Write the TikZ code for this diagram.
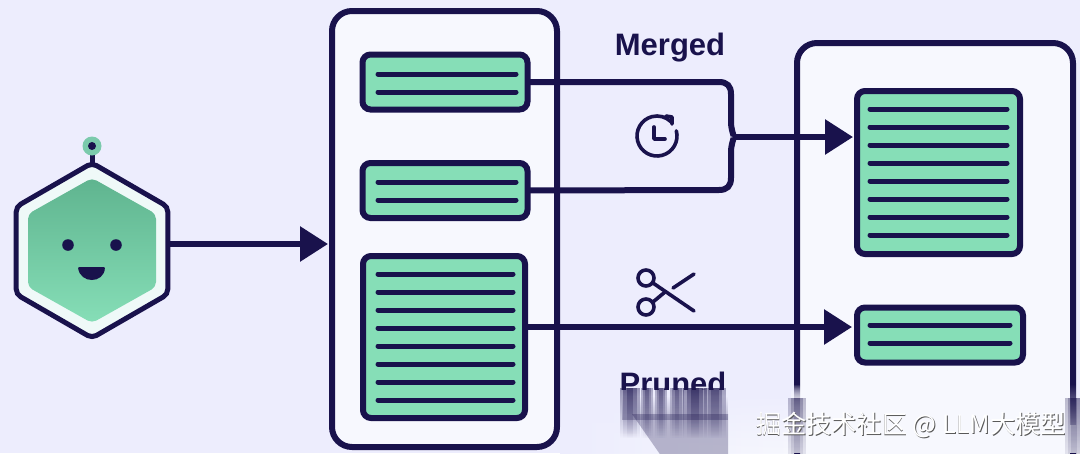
\documentclass[tikz,border=0pt]{standalone}
\usepackage{fontspec}
\setmainfont{Liberation Sans}
\newfontfamily\cjkfont{Noto Sans CJK SC}
\usetikzlibrary{arrows.meta,shapes.geometric,calc,fadings}
\definecolor{ink}{HTML}{19124C}
\definecolor{pagebg}{HTML}{EDEDFD}
\definecolor{panelbg}{HTML}{F7F8FE}
\definecolor{cardgreen}{HTML}{86DEB7}
\definecolor{cardtop}{HTML}{5FB48F}
\definecolor{halo}{HTML}{EFF9F8}
\tikzfading[name=fadedown,top color=transparent!0,bottom color=transparent!100]
\tikzfading[name=fadeup,top color=transparent!100,bottom color=transparent!0]
\tikzset{
  panel/.style={draw=ink,line width=6pt,fill=panelbg,rounded corners=20pt,inner sep=0pt,outer sep=0pt},
  card/.style={draw=ink,line width=6pt,fill=cardgreen,rounded corners=8pt,inner sep=0pt,outer sep=0pt},
  textline/.style={draw=ink,line width=5pt,line cap=round},
  flow/.style={draw=ink,line width=6pt},
  flowarrow/.style={flow,-{Triangle[length=28pt,width=34pt]}},
  icon/.style={draw=ink,line width=3.6pt,line cap=round,line join=round},
  label/.style={text=ink,inner sep=0pt,font=\fontsize{31}{31}\selectfont\bfseries},
  markfont/.style={inner sep=0pt,font=\fontsize{25.2}{26}\selectfont\cjkfont},
}
\newcommand{\softstreak}[5]{% centre x, half width, top y, bottom y, opacity
  \foreach \k in {1,0.66,0.33}
    \fill[ink,opacity=#5*0.45,path fading=fadedown] ({#1-#2*\k},#3) rectangle ({#1+#2*\k},#4);
}
\begin{document}
\begin{tikzpicture}[x=1pt,y=-1pt]
\useasboundingbox (0,0) rectangle (1080,453);
\begin{scope}
\clip (0,0) rectangle (1080,453);
\fill[pagebg] (0,0) rectangle (1080,453);
% panels
\node[panel,minimum width=225pt,minimum height=436pt] (boxL) at (444.5,229) {};
\node[panel,minimum width=276pt,minimum height=480pt] (boxR) at (935,283) {};
% cards
\node[card,minimum width=165pt,minimum height=55pt] (cardA) at (445,82) {};
\node[card,minimum width=165pt,minimum height=55pt] (cardB) at (445,190.5) {};
\node[card,minimum width=162pt,minimum height=162pt] (cardC) at (444,337) {};
\node[card,minimum width=163pt,minimum height=163pt] (cardD) at (938.5,172.5) {};
\node[card,minimum width=166pt,minimum height=55pt] (cardE) at (940,335) {};
\foreach \y in {74,92,182,200} \draw[textline] (378,\y) -- (516,\y);
\foreach \y in {274,292,...,400} \draw[textline] (378,\y) -- (513,\y);
\foreach \y in {109,127,...,235} \draw[textline] (870,\y) -- (1007,\y);
\foreach \y in {325,343} \draw[textline] (870,\y) -- (1010,\y);
% agent
\draw[ink,line width=5pt] (92,165) -- (92,148);
\fill[cardgreen!90!ink] (92,146) circle (9.5);
\fill[ink] (92,146) circle (4);
\node[regular polygon,regular polygon sides=6,shape border rotate=30,minimum size=175pt,inner sep=0pt,outer sep=0pt,draw=ink,line width=5pt,fill=halo,rounded corners=5pt] (hex) at (92,250.5) {};
\shade[top color=cardtop,bottom color=cardgreen,rounded corners=5pt]
  (92,178) -- (156,214) -- (156,287) -- (92,323) -- (28,287) -- (28,214) -- cycle;
\fill[ink] (68,245) circle (5.8) (116,245) circle (5.8);
\fill[ink,rounded corners=1pt] (78,267) .. controls (80,284) and (104,284) .. (105,267) -- cycle;
% connectors
\coordinate (hexOut) at (167,244);
\draw[flowarrow,shorten >=4pt] (hexOut) -- (hexOut -| boxL.west);
\coordinate (mergeJ) at (733,137);
\draw[flow] (cardA.east) -- (719,82) .. controls (727,82) and (731,86) .. (731,94) -- (731,122)
  .. controls (731,131) and (735,137) .. (mergeJ);
\draw[flow] (cardB.east) -- (719,190) .. controls (727,190) and (731,186) .. (731,178) -- (731,152)
  .. controls (731,143) and (735,137) .. (mergeJ);
\draw[flowarrow,shorten >=4pt] (mergeJ) -- (mergeJ -| cardD.west);
\coordinate (pruneOut) at (527,327);
\draw[flowarrow,shorten >=5pt] (pruneOut) -- (pruneOut -| cardE.west);
% clock
\begin{scope}[shift={(657,136)},yscale=-1]
\draw[icon] (15:20) arc[start angle=15,end angle=-315,radius=20];
\draw[icon] (9,20) -- (15,19) -- (15,12);
\draw[icon] (-3,9) -- (-3,-3) -- (8,-3);
\end{scope}
% scissors
\draw[icon] (646,278) circle (8) (646,307) circle (8);
\draw[icon] (653,283) -- (694,311);
\draw[icon] (653,302) -- (665,292);
\draw[icon] (673,288) -- (694,274);
% labels
\node[label] (merged) at (670,47.5) {Merged};
\begin{scope}
\clip (600,360) rectangle (750,389);
\node[label] (pruned) at (673,383.5) {Pruned};
\end{scope}
% whitening and smear of the bottom strip
\shade[left color=pagebg,middle color=panelbg,right color=panelbg,path fading=fadeup] (560,392) rectangle (794,453);
\fill[ink,opacity=.28] (632,414) -- (728,414) -- (728,460) -- (664,460) -- cycle;
\fill[ink,opacity=.28,path fading=fadeup] (622,396) rectangle (728,420);
\foreach \c/\w/\o in {630/10/.9,647/6/.7,661/6/.7,677/7/.7,695/12/1,715/11/.8}
  \softstreak{\c}{\w}{388}{438}{\o}
% bottom of the right panel's sides fades out
\fill[panelbg,path fading=fadeup] (791,384) rectangle (804,440);
\fill[panelbg] (791,425) rectangle (804,453);
\fill[panelbg,path fading=fadeup] (1067,384) rectangle (1080,440);
\fill[panelbg] (1067,425) rectangle (1080,453);
\softstreak{797}{9}{398}{480}{.6}
\softstreak{1074}{9}{398}{480}{.6}
% watermark
\node[markfont,text=black!65] at (911.8,425.8) {掘金技术社区 @ LLM大模型};
\node[markfont,text=white] (mark) at (911,425) {掘金技术社区 @ LLM大模型};
\end{scope}
\end{tikzpicture}
\end{document}
